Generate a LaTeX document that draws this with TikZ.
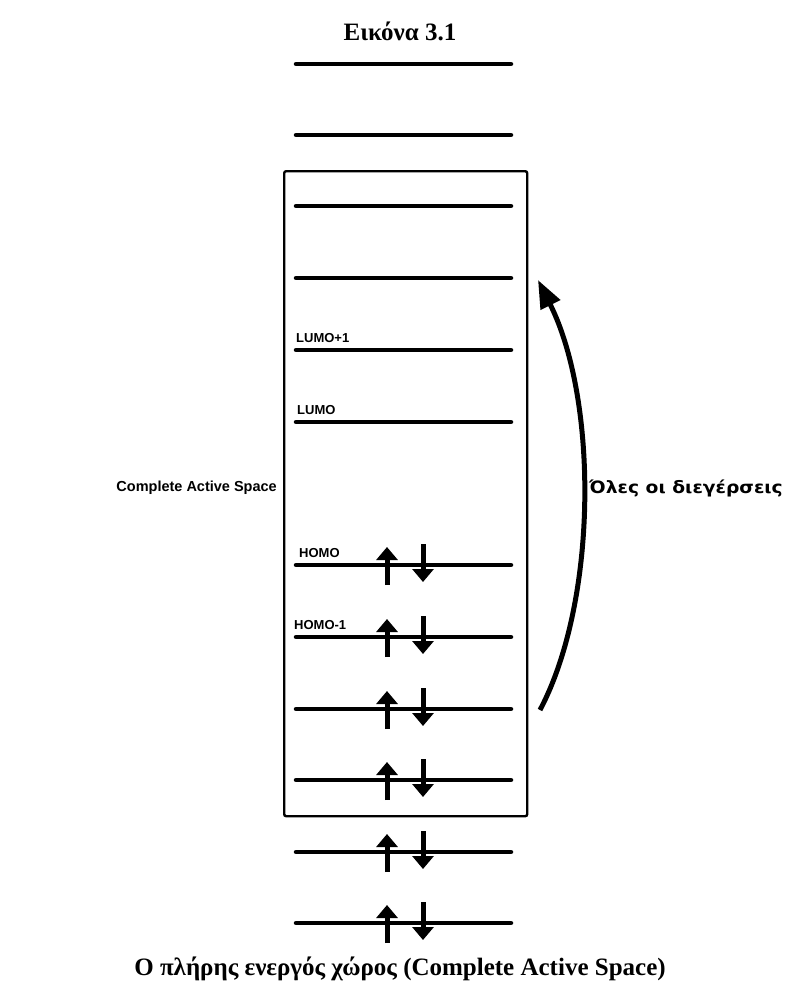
\documentclass[tikz,border=0pt]{standalone}
\usepackage{fontspec}
\setmainfont{Liberation Serif}
\newfontfamily\labelfont{Liberation Sans}
\newfontfamily\widefont{DejaVu Sans}
\usetikzlibrary{arrows.meta}
\begin{document}
\begin{tikzpicture}[x=1pt,y=-1pt,
  level/.style={line width=4.5pt,line cap=round},
  spinup/.style={line width=5pt,-{Triangle[width=21pt,length=13pt]}},
  spindown/.style={line width=5pt,-{Triangle[width=21pt,length=13pt]}},
  frame/.style={draw,line width=2.4pt,rounded corners=2pt,inner sep=0pt},
  excite/.style={line width=5pt,-{Triangle[width=21pt,length=28pt]}},
  lab/.style={font=\labelfont\bfseries\fontsize{13}{15}\selectfont,inner sep=0pt},
  side/.style={font=\labelfont\bfseries\fontsize{14.5}{17}\selectfont,inner sep=0pt},
  greekside/.style={font=\widefont\bfseries\fontsize{17}{20}\selectfont,inner sep=0pt},
  heading/.style={font=\bfseries\fontsize{25}{29}\selectfont,inner sep=0pt},
  caption/.style={font=\bfseries\fontsize{25}{29}\selectfont,inner sep=0pt},
]
\useasboundingbox (0,0) rectangle (793,991);
\fill[white] (0,0) rectangle (793,991);

% title
\node[heading,anchor=base] (title) at (400,40) {Εικόνα 3.1};

% orbital energy levels
\foreach \n/\y in {1/64,2/135,3/206,4/278,5/350,6/422,7/565,8/637,9/709,10/780,11/852,12/923} {
  \coordinate (L\n-w) at (296,\y);
  \coordinate (L\n-e) at (511,\y);
  \draw[level] (L\n-w) -- (L\n-e);
}

% paired electrons in the occupied levels
\foreach \n in {7,...,12} {
  \draw[spinup] ([shift={(91,20)}]L\n-w) -- ([shift={(91,-18)}]L\n-w);
  \draw[spindown] ([shift={(127,-21)}]L\n-w) -- ([shift={(127,17)}]L\n-w);
}

% active space frame
\node[frame,anchor=north west,minimum width=243pt,minimum height=645pt] (cas) at (283,170) {};

% level labels
\node[lab,anchor=base west] (lumo1) at (296,342) {LUMO+1};
\node[lab,anchor=base west] (lumo)  at (297,414) {LUMO};
\node[lab,anchor=base west] (homo)  at (299,557) {HOMO};
\node[lab,anchor=base west] (homo1) at (294,629) {HOMO-1};

% excitation arrow
\coordinate (exfrom) at (540,710);
\coordinate (exto) at (538,280);
\draw[excite] (exfrom) .. controls (598,600) and (598,400) .. (exto);

% side labels
\node[side,anchor=east] (caslabel) at (277,488) {Complete Active Space};
\node[greekside,anchor=west] (exlabel) at (589,488) {\scalebox{1.1}[1]{Όλες οι διεγέρσεις}};

% caption
\node[caption,anchor=base] (cap) at (400,975) {Ο πλήρης ενεργός χώρος (Complete Active Space)};
\end{tikzpicture}
\end{document}
